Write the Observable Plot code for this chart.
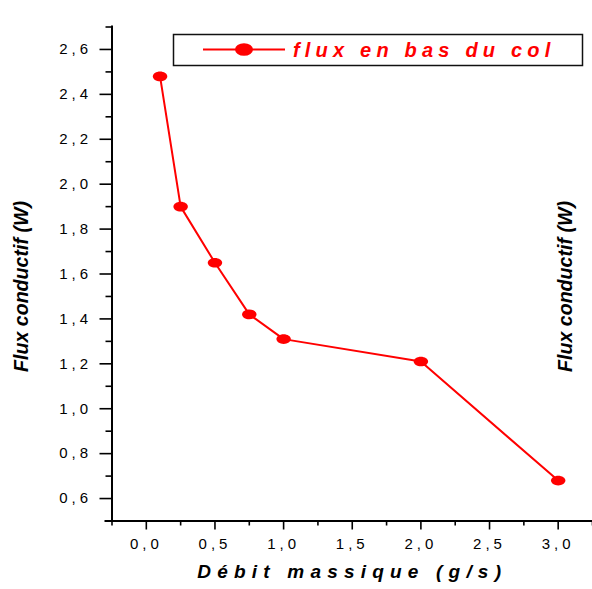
<!DOCTYPE html>
<html><head><meta charset="utf-8">
<script src="https://cdn.jsdelivr.net/npm/d3@7"></script>
<script src="https://cdn.jsdelivr.net/npm/@observablehq/plot@0.6"></script>
<style>
body{margin:0;background:#fff}
#chart svg{display:block;background:#fff}
g[aria-label="x-axis tick label"] text, g[aria-label="y-axis tick label"] text {letter-spacing:4px;font-size:15px}
</style></head><body><div id="chart"></div>
<script>
const debit = [0.1, 0.25, 0.5, 0.75, 1.0, 2.0, 3.0];
const flux = [2.48, 1.90, 1.65, 1.42, 1.31, 1.21, 0.68];
const seriesName = "flux en bas du col";
const xLabel = "Débit massique (g/s)";
const yLabel = "Flux conductif (W)";
const xDomain = [-0.25, 3.25];
const yDomain = [0.5, 2.7];
const xTicks = [0, 0.5, 1, 1.5, 2, 2.5, 3];
const xMinor = [-0.25, 0.25, 0.75, 1.25, 1.75, 2.25, 2.75, 3.25];
const yTicks = [0.6, 0.8, 1.0, 1.2, 1.4, 1.6, 1.8, 2.0, 2.2, 2.4, 2.6];
const yMinor = [0.5, 0.7, 0.9, 1.1, 1.3, 1.5, 1.7, 1.9, 2.1, 2.3, 2.5, 2.7];

const data = debit.map((d, i) => ({debit: d, flux: flux[i]}));
const fmt = d => d.toFixed(1).replace(".", ",");
const ellipse = {draw(ctx, size) {
  const r = Math.sqrt(size / Math.PI), rx = r * 1.5, ry = r, k = 0.5523;
  ctx.moveTo(rx, 0);
  ctx.bezierCurveTo(rx, ry * k, rx * k, ry, 0, ry);
  ctx.bezierCurveTo(-rx * k, ry, -rx, ry * k, -rx, 0);
  ctx.bezierCurveTo(-rx, -ry * k, -rx * k, -ry, 0, -ry);
  ctx.bezierCurveTo(rx * k, -ry, rx, -ry * k, rx, 0);
  ctx.closePath();
}};
const RED = "#ff0000";
const font = "'Liberation Sans', Arial, sans-serif";

const svg = Plot.plot({
  width: 592,
  height: 589,
  marginLeft: 111.5,
  marginRight: 0,
  marginTop: 26.5,
  marginBottom: 68.5,
  style: {fontFamily: font, color: "#000", background: "#fff"},
  x: {domain: xDomain},
  y: {domain: yDomain},
  marks: [
    Plot.axisX(xMinor, {tickSize: 5, tickFormat: () => "", strokeWidth: 1.6, label: null}),
    Plot.axisX(xTicks, {tickSize: 9, tickPadding: 8, tickFormat: fmt, fontSize: 15, strokeWidth: 1.6, label: null}),
    Plot.axisY(yMinor, {tickSize: 6, tickFormat: () => "", strokeWidth: 1.6, label: null}),
    Plot.axisY(yTicks, {tickSize: 12, tickPadding: 8, tickFormat: fmt, fontSize: 15, strokeWidth: 1.6, label: null}),
    Plot.ruleX([xDomain[0]], {stroke: "#000", strokeWidth: 2, insetTop: -1}),
    Plot.ruleY([yDomain[0]], {stroke: "#000", strokeWidth: 2, insetLeft: -7}),
    Plot.line(data, {x: "debit", y: "flux", stroke: RED, strokeWidth: 2}),
    Plot.dot(data, {x: "debit", y: "flux", r: 4.8, symbol: ellipse, fill: RED, stroke: "none"}),
    Plot.text([xLabel], {frameAnchor: "bottom", dy: 56.5, fontSize: 19, fontWeight: "bold", fontStyle: "italic", fill: "#000"}),
    Plot.text([yLabel], {frameAnchor: "left", textAnchor: "middle", rotate: -90, dx: -90.5, dy: 12.5, fontSize: 19.6, fontWeight: "bold", fontStyle: "italic", fill: "#000"}),
    Plot.text([yLabel], {frameAnchor: "right", textAnchor: "middle", rotate: -90, dx: -26.5, dy: 12.5, fontSize: 19.6, fontWeight: "bold", fontStyle: "italic", fill: "#000"})
  ]
});

const s = d3.select(svg);
s.selectAll("text").filter(function() { return this.textContent === xLabel; }).style("letter-spacing", "6.2px");

// legend
const lg = s.append("g").attr("aria-label", "legend");
lg.append("rect").attr("x", 173.5).attr("y", 34.5).attr("width", 409).attr("height", 31)
  .attr("fill", "#fff").attr("stroke", "#111").attr("stroke-width", 1.5);
lg.append("line").attr("x1", 203).attr("x2", 285).attr("y1", 49.5).attr("y2", 49.5)
  .attr("stroke", RED).attr("stroke-width", 2);
lg.append("ellipse").attr("cx", 244).attr("cy", 49.5).attr("rx", 9).attr("ry", 6.3).attr("fill", RED);
lg.append("text").attr("x", 293).attr("y", 57).text(seriesName)
  .attr("fill", RED).attr("font-size", 20).attr("font-weight", "bold").attr("font-style", "italic")
  .attr("text-anchor", "start")
  .attr("font-family", font).style("letter-spacing", "5.2px");

document.getElementById("chart").appendChild(svg);
</script></body></html>
